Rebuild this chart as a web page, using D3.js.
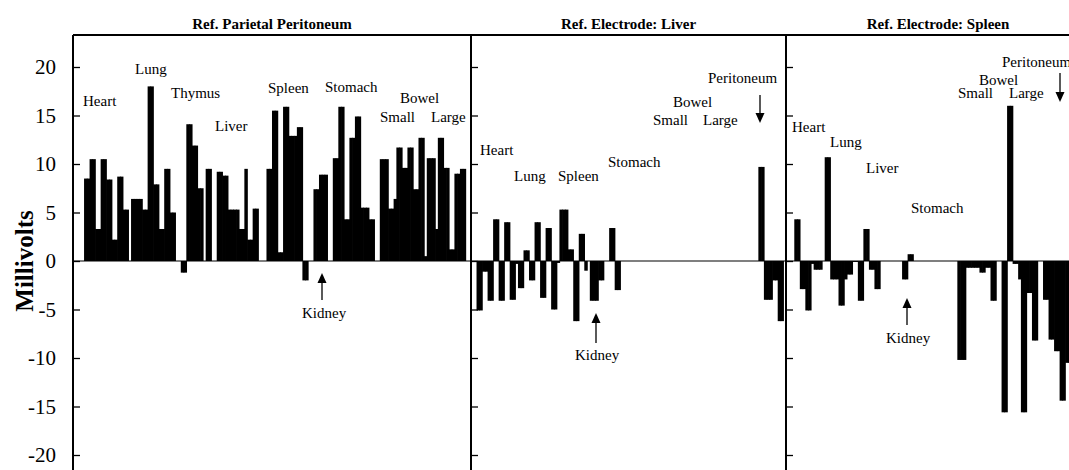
<!DOCTYPE html>
<html>
<head>
<meta charset="utf-8">
<script src="https://cdn.jsdelivr.net/npm/d3@7"></script>
<style>
  body { margin: 0; background: #fff; }
</style>
</head>
<body>
<svg id="chart" width="1069" height="470"></svg>
<script>
// millivolt readings, one value per sample slot
const parietal = [
  0, 0, 0, 0, 8.5, 8.5, 10.5, 10.5, 3.3, 3.3, 10.5, 10.5, 8.4, 8.4, 2.2, 2.2, 8.7, 8.7, 5.3, 5.3,
  0, 6.4, 6.4, 6.4, 6.4, 5.3, 5.3, 18, 18, 7.9, 7.9, 3.3, 3.3, 9.5, 9.5, 5, 5, 0, 0, -1.2,
  -1.2, 14.1, 14.1, 11.9, 11.9, 7.5, 7.5, 0, 9.5, 9.5, 0, 0, 9.2, 9.2, 8.8, 8.8, 5.3, 5.3, 5.3, 5.3,
  3.3, 3.3, 9.5, 2.2, 2.2, 5.4, 5.4, 0, 0, 0, 9.5, 9.5, 15.5, 15.5, 0.9, 0.9, 15.9, 15.9, 12.9, 12.9,
  12.9, 13.8, 13.8, -2, -2, 0, 0, 7.4, 7.4, 8.9, 8.9, 8.9, 0, 0, 10.6, 10.6, 15.9, 15.9, 4.3, 4.3,
  12.7, 12.7, 14.9, 14.9, 5.5, 5.5, 5.5, 4.3, 4.3, 0, 0, 10.5, 10.5, 10.5, 5.4, 5.4, 6.4, 11.7, 11.7, 9.6,
  9.6, 11.7, 11.7, 7.4, 7.4, 12.7, 12.7, 0.5, 10.6, 10.6, 10.6, 3.3, 12.7, 12.7, 9.6, 9.6, 1.2, 1.2, 9.0, 9.0,
  9.5, 9.5, 0, 0
];
const liverRef = [
  0, 0, -5.1, -5.1, -1.1, -1.1, -4.1, -4.1, 4.3, 4.3, -4.1, -4.1, 4.0, 4.0, -4.0, -4.0, -0.3, -2.8, -2.8, 1.1,
  1.1, -2.0, -2.0, 4.0, 4.0, -3.8, -3.8, 3.4, 3.4, -5.0, -5.0, -0.2, 5.3, 5.3, 5.3, 1.2, 1.2, -6.2, -6.2, 2.8,
  2.8, -1.0, 0, -4.1, -4.1, -4.1, -2.0, -2.0, 0, 0, 3.4, 3.4, -3.0, -3.0, 0, 0, 0, 0, 0, 0,
  0, 0, 0, 0, 0, 0, 0, 0, 0, 0, 0, 0, 0, 0, 0, 0, 0, 0, 0, 0,
  0, 0, 0, 0, 0, 0, 0, 0, 0, 0, 0, 0, 0, 0, 0, 0, 0, 0, 0, 0,
  0, 0, 0, 0, 9.7, 9.7, -4.0, -4.0, -4.0, -2.0, -2.0, -6.2, -6.2, 0
];
const spleenRef = [
  0, 0, 0, 4.3, 4.3, -2.9, -2.9, -5.1, -5.1, -0.3, -0.9, -0.9, -0.9, 0, 10.7, 10.7, -1.9, -1.9, -1.9, -4.6,
  -4.6, -1.9, -1.4, -1.4, -0.1, -0.1, -4.1, -4.1, 3.3, 3.3, -0.9, -0.9, -2.9, -2.9, 0, 0, 0, 0, 0, 0,
  0, 0, -1.9, -1.9, 0.7, 0.7, 0, 0, 0, 0, 0, 0, 0, 0, 0, 0, 0, 0, 0, 0,
  0, 0, -10.2, -10.2, -10.2, -0.7, -0.7, -0.7, -0.7, -0.7, -1.2, -1.2, -0.7, -0.7, -4.1, -4.1, 0, 0, -15.6, -15.6,
  16, 16, -0.3, -0.3, -1.9, -15.6, -15.6, -3.3, -3.3, -8.2, -8.2, 0, 0, -4.0, -4.0, -8.1, -8.1, -9.3, -9.3, -14.4,
  -14.4, -10.5, -10.5, -10.5
];
const panelTitles = ["Ref. Parietal Peritoneum", "Ref. Electrode: Liver", "Ref. Electrode: Spleen"];
const slotCounts = [144, 114, 110];
const yTicks = [-20, -15, -10, -5, 0, 5, 10, 15, 20];

// organ labels, [text, x, baseline y]
const labels = [
  ["Heart", 83, 106], ["Lung", 135, 74], ["Thymus", 171, 98], ["Liver", 215, 131],
  ["Spleen", 268, 93], ["Stomach", 325, 92], ["Bowel", 400, 103], ["Small", 380, 122],
  ["Large", 431, 122], ["Kidney", 302, 318],
  ["Heart", 480, 155], ["Lung", 514, 181], ["Spleen", 558, 181], ["Stomach", 608, 167],
  ["Peritoneum", 708, 83], ["Bowel", 673, 107], ["Small", 653, 125], ["Large", 703, 125],
  ["Kidney", 575, 360],
  ["Heart", 792, 132], ["Lung", 830, 147], ["Liver", 866, 173], ["Stomach", 911, 213],
  ["Kidney", 886, 343], ["Peritoneum", 1002, 67], ["Bowel", 979, 85], ["Small", 958, 98],
  ["Large", 1009, 98]
];
// arrows, [x, tail y, tip y]
const arrows = [[322, 300, 273], [596, 343, 313], [760, 95, 123], [907, 325, 298], [1060, 73, 102]];

const FONT = "'Liberation Serif', 'DejaVu Serif', serif";
const svg = d3.select("#chart");
const W = 1069, H = 470;
const edges = [73, 471, 786, 1090];
const frameTop = 35;

const y = d3.scaleLinear().domain([-20, 20]).range([455, 67]);

const panels = [parietal, liverRef, spleenRef].map((vals, k) => ({
  title: panelTitles[k],
  values: vals,
  left: edges[k],
  right: edges[k + 1],
  x: d3.scaleBand().domain(d3.range(slotCounts[k])).range([edges[k], edges[k + 1]]).padding(0)
}));

panels.forEach((p, k) => {
  const g = svg.append("g");

  g.selectAll("rect")
    .data(p.values.map((v, i) => ({ i, v })).filter(d => d.v !== 0))
    .enter()
    .append("rect")
    .attr("x", d => p.x(d.i))
    .attr("width", p.x.bandwidth() + 0.7)
    .attr("y", d => Math.min(y(d.v), y(0)))
    .attr("height", d => Math.abs(y(d.v) - y(0)))
    .attr("fill", "#000");

  const axis = d3.axisLeft(y)
    .tickValues(yTicks)
    .tickSize(-7)
    .tickPadding(17)
    .tickFormat(k === 0 ? (d => String(d)) : "");
  const ag = g.append("g").attr("transform", `translate(${p.left},0)`).call(axis);
  ag.attr("font-family", FONT).attr("font-size", 21);
  ag.select(".domain").remove();
  ag.selectAll(".tick line").attr("stroke", "#000").attr("stroke-width", 1.3);
  ag.selectAll(".tick text").attr("fill", "#000");

  g.append("text")
    .attr("x", (p.left + p.right) / 2)
    .attr("y", 29)
    .attr("text-anchor", "middle")
    .attr("font-family", FONT)
    .attr("font-size", 15)
    .attr("font-weight", "bold")
    .text(p.title);
});

// zero line
svg.append("line")
  .attr("x1", edges[0]).attr("x2", W)
  .attr("y1", y(0)).attr("y2", y(0))
  .attr("stroke", "#000").attr("stroke-width", 1.1);

// frame
svg.append("line")
  .attr("x1", edges[0]).attr("x2", W)
  .attr("y1", frameTop).attr("y2", frameTop)
  .attr("stroke", "#000").attr("stroke-width", 2);
svg.selectAll(".divider")
  .data(edges.slice(0, 3))
  .enter()
  .append("line")
  .attr("x1", d => d).attr("x2", d => d)
  .attr("y1", frameTop).attr("y2", H)
  .attr("stroke", "#000").attr("stroke-width", 2);

svg.selectAll(".organ")
  .data(labels)
  .enter()
  .append("text")
  .attr("x", d => d[1])
  .attr("y", d => d[2])
  .attr("font-family", FONT)
  .attr("font-size", 15)
  .text(d => d[0]);

arrows.forEach(([ax, y1, y2]) => {
  const dir = y2 < y1 ? 1 : -1;
  svg.append("line")
    .attr("x1", ax).attr("x2", ax)
    .attr("y1", y1).attr("y2", y2 + dir * 8)
    .attr("stroke", "#000").attr("stroke-width", 1.3);
  svg.append("path")
    .attr("d", `M${ax},${y2} L${ax - 4.5},${y2 + dir * 10} L${ax + 4.5},${y2 + dir * 10} Z`)
    .attr("fill", "#000");
});

svg.append("text")
  .attr("transform", `translate(33,${y(0)}) rotate(-90)`)
  .attr("text-anchor", "middle")
  .attr("font-family", FONT)
  .attr("font-size", 25)
  .attr("font-weight", "bold")
  .text("Millivolts");
</script>
</body>
</html>
